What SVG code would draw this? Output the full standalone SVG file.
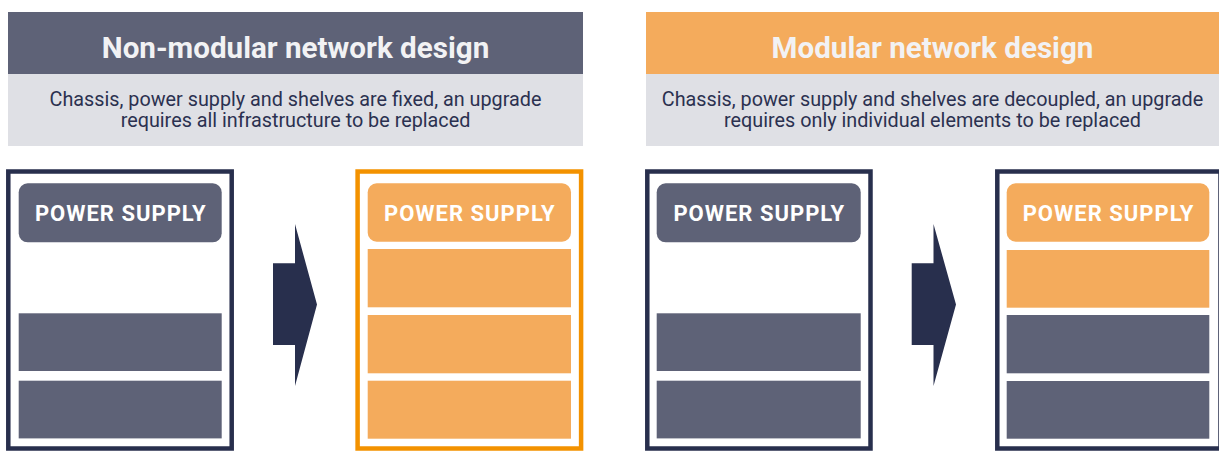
<svg xmlns="http://www.w3.org/2000/svg" width="1219" height="451" viewBox="0 0 1219 451">
<style>
.title{font-family:Roboto,"Liberation Sans",sans-serif;font-weight:700;font-size:29.6px;fill:#F2F2F4;text-anchor:middle}
.sub{font-family:Roboto,"Liberation Sans",sans-serif;font-size:19.8px;fill:#2B3150;text-anchor:middle}
.ps{font-family:Roboto,"Liberation Sans",sans-serif;font-weight:700;font-size:22px;letter-spacing:1px;fill:#FFFFFF;text-anchor:middle}
.band{fill:#DFE0E5}
.hdark{fill:#5E6277}
.horange{fill:#F4AB5C}
.chN{fill:#FFFFFF;stroke:#282F4D;stroke-width:4.5}
.chO{fill:#FFFFFF;stroke:#F39200;stroke-width:4.5}
.g{fill:#5E6277}
.o{fill:#F4AB5C}
.arrow{fill:#282F4D}
</style>
<g id="header-nonmodular">
<rect class="hdark" x="8" y="12" width="575" height="62"/>
<rect class="band" x="8" y="74" width="575" height="72"/>
<text class="title" x="295.5" y="58.3">Non-modular network design</text>
<text class="sub" x="295.5" y="106">Chassis, power supply and shelves are fixed, an upgrade</text>
<text class="sub" x="295.5" y="127">requires all infrastructure to be replaced</text>
</g>
<g id="header-modular">
<rect class="horange" x="646" y="12" width="575" height="62"/>
<rect class="band" x="646" y="74" width="575" height="72"/>
<text class="title" x="932.5" y="58.3">Modular network design</text>
<text class="sub" x="932.5" y="106">Chassis, power supply and shelves are decoupled, an upgrade</text>
<text class="sub" x="932.5" y="127">requires only individual elements to be replaced</text>
</g>
<g id="chassis-1">
<rect class="chN" x="8.3" y="171.5" width="223.4" height="277"/>
<rect class="g" x="18.7" y="183.3" width="203" height="59" rx="9"/>
<text class="ps" x="120.7" y="220.8">POWER SUPPLY</text>
<rect class="g" x="18.7" y="313.3" width="203" height="57.7"/>
<rect class="g" x="18.7" y="380.7" width="203" height="57.7"/>
</g>
<g id="chassis-2">
<rect class="chO" x="357.6" y="171.5" width="223.5" height="277"/>
<rect class="o" x="367.7" y="183.3" width="203.3" height="58.4" rx="9"/>
<text class="ps" x="469.8" y="220.8">POWER SUPPLY</text>
<rect class="o" x="367.7" y="249" width="203.3" height="58.3"/>
<rect class="o" x="367.7" y="315" width="203.3" height="58.3"/>
<rect class="o" x="367.7" y="380.7" width="203.3" height="58"/>
</g>
<g id="chassis-3">
<rect class="chN" x="647.3" y="171.5" width="223.2" height="277"/>
<rect class="g" x="656.7" y="183.3" width="204" height="59" rx="9"/>
<text class="ps" x="759.2" y="220.8">POWER SUPPLY</text>
<rect class="g" x="656.7" y="313.3" width="204" height="57.7"/>
<rect class="g" x="656.7" y="380.7" width="204" height="57.7"/>
</g>
<g id="chassis-4">
<rect class="chN" x="997.3" y="171.5" width="223.2" height="277"/>
<rect class="o" x="1006.7" y="183.3" width="202.6" height="58.4" rx="9"/>
<text class="ps" x="1108.5" y="220.8">POWER SUPPLY</text>
<rect class="o" x="1006.7" y="250" width="202.6" height="57.7"/>
<rect class="g" x="1006.7" y="315" width="202.6" height="58.3"/>
<rect class="g" x="1006.7" y="381" width="202.6" height="57.7"/>
</g>
<g id="connectors">
<polygon class="arrow" points="273,263.3 295,263.3 295,224 317,304.5 295,386 295,345 273,345"/>
<polygon class="arrow" points="911.7,263.3 933.5,263.3 933.5,224 956,304.5 933.5,386 933.5,345 911.7,345"/>
</g>
</svg>
